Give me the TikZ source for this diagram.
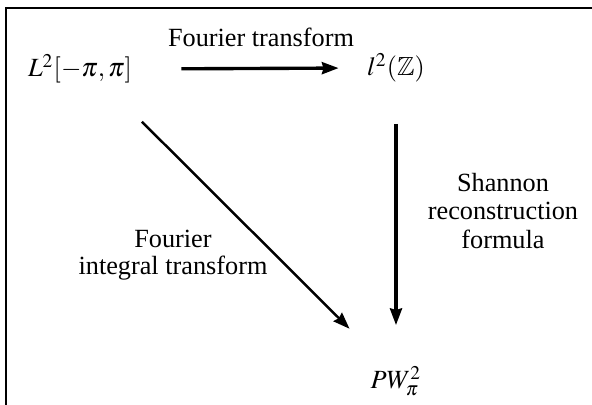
\documentclass[tikz,border=0pt]{standalone}
\usepackage{amssymb}
\usepackage{mathptmx}
\usepackage[no-math]{fontspec}
\setmainfont{Liberation Serif}
\usetikzlibrary{arrows.meta}

\begin{document}
\begin{tikzpicture}[
  x=0.013514cm, y=-0.013514cm,
  >={Stealth[length=6.4pt, width=4.6pt, inset=0.6pt]},
  font=\fontsize{10.1}{10.4}\selectfont,
  space/.style={inner sep=2pt},
  maparrow/.style={->, line width=1.3pt},
  slantarrow/.style={->, line width=0.95pt},
  maplabel/.style={align=center, inner sep=0pt},
  frameline/.style={line width=0.9pt}
]

% Bildgroesse wie Vorlage (Pixel als Einheit)
\useasboundingbox (0,0) rectangle (592,405);

% Rahmen: nur oben und links
\draw[frameline] (592,8) -- (6,8) -- (6,405);

% Raeume
\node[space] (L2) at (80,69) {$L^2[-\pi,\pi]$};
\node[space] (l2) at (396,68) {$l^2(\mathbb{Z})$};
\node[space] (PW) at (396,381) {$PW_\pi^2$};

% Abbildungen
\draw[maparrow, shorten <=0.59cm, shorten >=0.31cm] (L2.east) -- (l2.west);
\draw[maparrow, shorten <=0.48cm, shorten >=0.48cm] (l2.south) -- (PW.north);
\draw[slantarrow, shorten <=1.01cm, shorten >=1.0cm] ([xshift=0.122cm]L2.center) -- ([xshift=0.08cm]PW.center);

% Beschriftungen
\node[maplabel] (ftlabel) at (261,37) {Fourier transform};
\node[maplabel, font=\fontsize{10.1}{10.8}\selectfont] (srlabel) at (503,211) {Shannon\\reconstruction\\formula};
\node[maplabel] (fitlabel) at (173,255) {Fourier\\integral transform};

\end{tikzpicture}
\end{document}
